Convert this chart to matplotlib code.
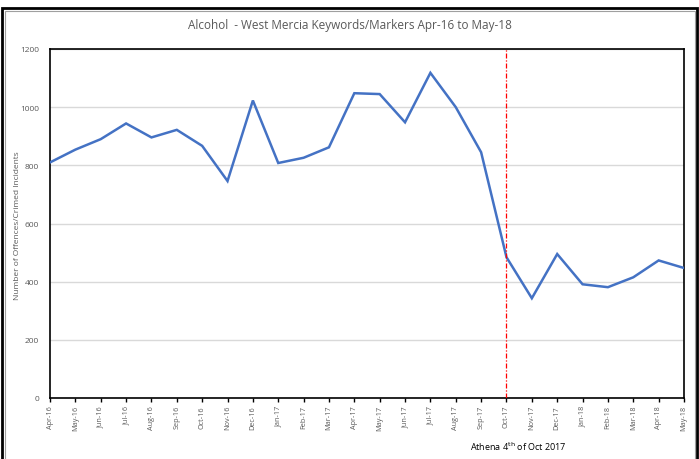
import matplotlib
matplotlib.use("Agg")
import matplotlib.pyplot as plt
from matplotlib.patches import Rectangle

months = ["Apr-16", "May-16", "Jun-16", "Jul-16", "Aug-16", "Sep-16", "Oct-16", "Nov-16",
          "Dec-16", "Jan-17", "Feb-17", "Mar-17", "Apr-17", "May-17", "Jun-17", "Jul-17",
          "Aug-17", "Sep-17", "Oct-17", "Nov-17", "Dec-17", "Jan-18", "Feb-18", "Mar-18",
          "Apr-18", "May-18"]
values = [810, 854, 890, 944, 896, 922, 867, 746,
          1023, 808, 826, 862, 1048, 1045, 948, 1118,
          1000, 845, 484, 343, 495, 391, 381, 415,
          473, 447]
yticks = [0, 200, 400, 600, 800, 1000, 1200]
marker_month = "Oct-17"

plt.rcParams['font.family'] = ['Open Sans', 'DejaVu Sans']

fig = plt.figure(figsize=(6.99, 4.60), dpi=100)
ax = fig.add_axes([50/699, 1-399/460, 634/699, 349/460])

x = list(range(len(months)))
ax.plot(x, values, color="#4472c4", lw=1.8, solid_joinstyle="miter", zorder=3)
mi = months.index(marker_month)
ax.axvline(mi, color="#ff0000", lw=0.9, dashes=(4, 1.5, 1, 1.5), zorder=4)

ax.set_xlim(0, len(months)-1)
ax.set_ylim(0, 1200)
ax.set_yticks(yticks)
ax.set_yticklabels([str(v) for v in yticks], fontsize=6, color="#595959")
ax.tick_params(axis="y", length=0, pad=8)
ax.set_xticks(x)
ax.set_xticklabels(months, rotation=90, fontsize=5.2, color="#595959")
ax.tick_params(axis="x", length=3, width=1, color="black", direction="out", pad=2)
ax.grid(axis="y", color="#d9d9d9", lw=1)
ax.set_axisbelow(True)
for s in ax.spines.values():
    s.set_color("black")
    s.set_linewidth(1.2)

fig.text(18/699, 1-226/460, "Number of Offences/Crimed Incidents", rotation=90,
         ha="center", va="center", fontsize=6, color="#595959")

fig.text(350/699, 1-25/460, "Alcohol  - West Mercia Keywords/Markers Apr-16 to May-18",
         ha="center", va="center", fontsize=8.5, color="#595959")
fig.text(518/699, 1-447/460, r"Athena 4$^{\mathrm{th}}$ of Oct 2017",
         ha="center", va="center", fontsize=6.5, color="black")

fig.patches.append(Rectangle((2/699, -0.05), 695/699, 1.05-9/460, transform=fig.transFigure,
                             fill=False, ec="black", lw=2))
fig.patches.append(Rectangle((4.5/699, -0.05), 690/699, 1.05-11.5/460, transform=fig.transFigure,
                             fill=False, ec="#a0a0a0", lw=0.8))

fig.savefig("out.png", dpi=100)
